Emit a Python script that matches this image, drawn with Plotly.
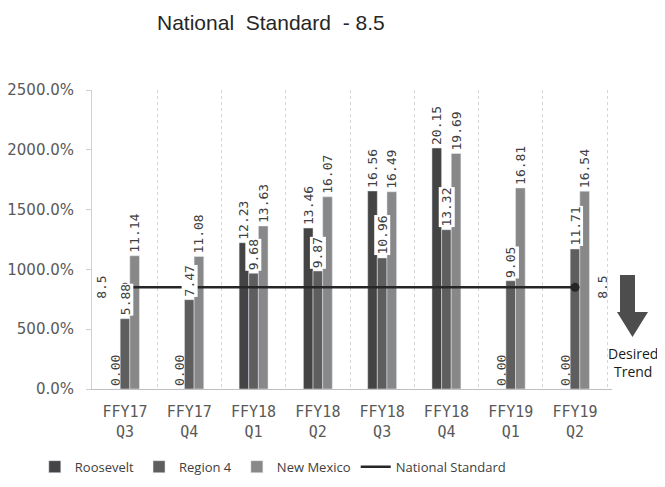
import plotly.graph_objects as go

quarters = ["FFY17<br>Q3", "FFY17<br>Q4", "FFY18<br>Q1", "FFY18<br>Q2",
            "FFY18<br>Q3", "FFY18<br>Q4", "FFY19<br>Q1", "FFY19<br>Q2"]
roosevelt = [0.00, 0.00, 12.23, 13.46, 16.56, 20.15, 0.00, 0.00]
region4 = [5.88, 7.47, 9.68, 9.87, 10.96, 13.32, 9.05, 11.71]
new_mexico = [11.14, 11.08, 13.63, 16.07, 16.49, 19.69, 16.81, 16.54]
national = [8.5] * 8
y_ticks = [0, 5, 10, 15, 20, 25]

label_font = dict(family="DejaVu Sans Mono, Liberation Mono, monospace", size=13, color="#404040")

fig = go.Figure()
fig.add_trace(go.Bar(name="Roosevelt", x=quarters, y=roosevelt, marker_color="#444444",
                     text=[f"{v:.2f}" for v in roosevelt], textposition="outside",
                     textangle=-90, textfont=label_font, constraintext="none", cliponaxis=False))
fig.add_trace(go.Bar(name="Region 4", x=quarters, y=region4, marker_color="#5e5e5e", cliponaxis=False))
fig.add_trace(go.Bar(name="New Mexico", x=quarters, y=new_mexico, marker_color="#888888",
                     text=[f"{v:.2f}" for v in new_mexico], textposition="outside",
                     textangle=-90, textfont=label_font, constraintext="none", cliponaxis=False))
fig.add_trace(go.Scatter(name="National Standard", x=quarters, y=national, mode="lines",
                         line=dict(color="#262626", width=2.5)))
fig.add_trace(go.Scatter(x=[quarters[0], quarters[-1]], y=[national[0], national[-1]], mode="markers",
                         marker=dict(color="#262626", size=9), showlegend=False, cliponaxis=False))

annotations = []
for q, v in zip(quarters, region4):
    annotations.append(dict(x=q, y=v, xref="x", yref="y", text=f"{v:.2f}", showarrow=False,
                            textangle=-90, yanchor="bottom", xanchor="center", yshift=2,
                            bgcolor="white", borderpad=0, font=label_font))
annotations.append(dict(x=quarters[0], y=national[0], xref="x", yref="y", text=f"{national[0]}",
                        showarrow=False, textangle=-90, xanchor="right", xshift=-14,
                        font=label_font))
annotations.append(dict(x=quarters[-1], y=national[-1], xref="x", yref="y", text=f"{national[-1]}",
                        showarrow=False, textangle=-90, xanchor="left", xshift=18,
                        font=label_font))
annotations.append(dict(x=1.04, y=0.09, xref="paper", yref="paper", text="Desired<br>Trend",
                        showarrow=False, xanchor="center", yanchor="middle",
                        font=dict(family="Open Sans, Liberation Sans, sans-serif", size=14, color="#1a1a1a")))

arrow_path = ("M 1.0154 0.3813 L 1.0442 0.3813 L 1.0442 0.2575 L 1.0692 0.2575 "
              "L 1.0394 0.1739 L 1.0096 0.2575 L 1.0154 0.2575 Z")

fig.update_layout(
    width=649, height=471,
    paper_bgcolor="white", plot_bgcolor="white",
    margin=dict(l=84, r=45, t=82, b=90, autoexpand=False),
    barmode="group", bargap=0.55, bargroupgap=0,
    title=dict(text="National  Standard  - 8.5", x=0.405, xanchor="center",
               y=0.968, yanchor="middle", yref="container",
               font=dict(family="Liberation Sans, sans-serif", size=21, color="#262626")),
    xaxis=dict(type="category", tickson="boundaries", showgrid=True, gridcolor="#d6d6d6",
               griddash="dot", gridwidth=1, showline=True, linecolor="#bfbfbf", ticks="",
               automargin=False, ticklabelstandoff=9,
               tickfont=dict(family="DejaVu Sans Mono, Liberation Mono, monospace", size=15, color="#595959")),
    yaxis=dict(range=[0, 25], tickvals=y_ticks, tickformat=".1%", showgrid=False, zeroline=False,
               showline=True, linecolor="#d0d0d0", ticks="outside", ticklen=5, tickcolor="#d0d0d0",
               ticklabelstandoff=9, automargin=False,
               tickfont=dict(family="DejaVu Sans, sans-serif", size=15, color="#595959")),
    legend=dict(orientation="h", x=-0.11, xanchor="left", y=-0.26, yanchor="middle",
                font=dict(family="Open Sans, Liberation Sans, sans-serif", size=13, color="#404040"),
                itemwidth=30, traceorder="normal"),
    annotations=annotations,
    shapes=[dict(type="path", xref="paper", yref="paper", path=arrow_path,
                 fillcolor="#4d4d4d", line=dict(width=0))],
)

fig.write_html("out.html")
